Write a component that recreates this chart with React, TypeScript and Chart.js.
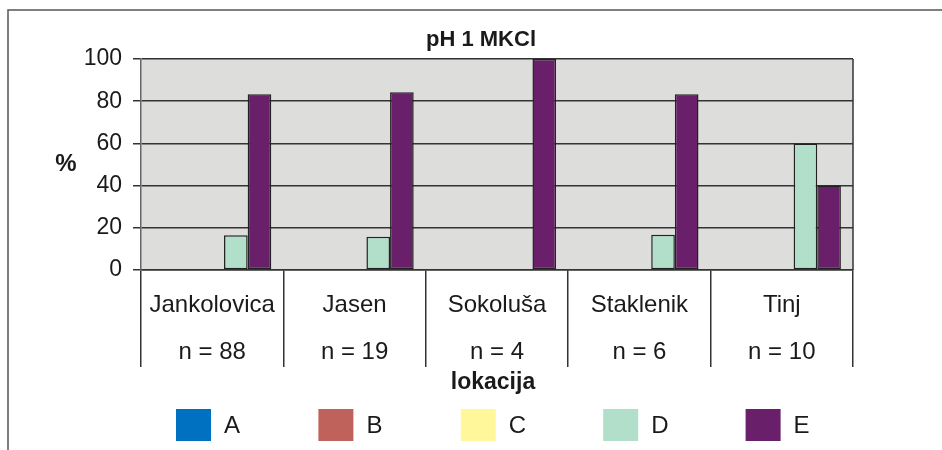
import React, { useEffect, useRef } from "react";
import { Chart, registerables } from "chart.js";

Chart.register(...registerables);

const chartTitle = "pH 1 MKCl";
const yAxisTitle = "%";
const xAxisTitle = "lokacija";
const locations = ["Jankolovica", "Jasen", "Sokoluša", "Staklenik", "Tinj"];
const sampleSizes = ["n = 88", "n = 19", "n = 4", "n = 6", "n = 10"];
const classLabels = ["A", "B", "C", "D", "E"];
const classColors = ["#0070c0", "#c0625c", "#fff799", "#b2dfca", "#6a1f6a"];
const valuesA = [0, 0, 0, 0, 0];
const valuesB = [0, 0, 0, 0, 0];
const valuesC = [0, 0, 0, 0, 0];
const valuesD = [16.5, 15.8, 0, 16.7, 60];
const valuesE = [83.3, 84.2, 100, 83.3, 40];
const yMin = 0;
const yMax = 100;
const yStep = 20;

const FONT = "'Liberation Sans', Arial, sans-serif";

const decorPlugin = {
  id: "decor",
  beforeDraw(chart: any) {
    const { ctx, chartArea } = chart;
    ctx.save();
    ctx.fillStyle = "#ffffff";
    ctx.fillRect(0, 0, chart.width, chart.height);
    // outer frame
    ctx.strokeStyle = "#555555";
    ctx.lineWidth = 1.5;
    ctx.beginPath();
    ctx.moveTo(8, chart.height);
    ctx.lineTo(8, 10);
    ctx.lineTo(chart.width, 10);
    ctx.stroke();
    // plot background
    ctx.fillStyle = "#dddddc";
    ctx.fillRect(chartArea.left, chartArea.top, chartArea.right - chartArea.left, chartArea.bottom - chartArea.top);
    ctx.restore();
  },
  afterDraw(chart: any) {
    const { ctx, chartArea } = chart;
    ctx.save();
    // right border of plot
    ctx.strokeStyle = "#333333";
    ctx.lineWidth = 1.5;
    ctx.beginPath();
    ctx.moveTo(chartArea.right, chartArea.top);
    ctx.lineTo(chartArea.right, chartArea.bottom);
    ctx.stroke();

    ctx.fillStyle = "#1a1a1a";
    ctx.textAlign = "center";
    ctx.textBaseline = "middle";
    ctx.font = `bold 22px ${FONT}`;
    ctx.fillText(chartTitle, 481, 40);
    ctx.font = `bold 24px ${FONT}`;
    ctx.fillText(yAxisTitle, 66, 164);
    ctx.font = `bold 23px ${FONT}`;
    ctx.fillText(xAxisTitle, (chartArea.left + chartArea.right) / 2 - 4, 383);

    // legend
    const catW = (chartArea.right - chartArea.left) / locations.length;
    ctx.font = `24px ${FONT}`;
    ctx.textAlign = "left";
    chart.data.datasets.forEach((ds: any, i: number) => {
      const bx = chartArea.left + 35 + i * catW;
      const by = 409;
      ctx.fillStyle = ds.backgroundColor;
      ctx.fillRect(bx, by, 35, 32);
      ctx.fillStyle = "#1a1a1a";
      ctx.fillText(ds.label, bx + 48, by + 17);
    });
    ctx.restore();
  },
};

export default function App() {
  const canvasRef = useRef<HTMLCanvasElement | null>(null);

  useEffect(() => {
    const canvas = canvasRef.current;
    if (!canvas) return;
    const seriesValues = [valuesA, valuesB, valuesC, valuesD, valuesE];
    const chart = new Chart(canvas, {
      type: "bar",
      data: {
        labels: locations.map((l, i) => [l, sampleSizes[i]]),
        datasets: classLabels.map((label, i) => ({
          label,
          data: seriesValues[i],
          backgroundColor: classColors[i],
          borderColor: "#222222",
          borderWidth: 1.5,
          borderSkipped: false,
          categoryPercentage: 0.83,
          barPercentage: 1.0,
        })),
      },
      options: {
        responsive: false,
        animation: false,
        devicePixelRatio: 1,
        layout: { padding: { top: 59, right: 89, left: 0, bottom: 0 } },
        plugins: {
          legend: { display: false },
          title: { display: false },
          tooltip: { enabled: false },
        },
        scales: {
          x: {
            grid: {
              offset: true,
              drawOnChartArea: false,
              drawTicks: true,
              tickLength: 97,
              color: "#333333",
              lineWidth: 1.5,
            },
            border: { display: true, color: "#333333", width: 1.5 },
            ticks: {
              color: "#1a1a1a",
              font: { family: FONT, size: 24, lineHeight: 47 / 24 },
              padding: -85.5,
              autoSkip: false,
              maxRotation: 0,
            },
            afterFit: (s: any) => {
              s.height = 180;
            },
          },
          y: {
            min: yMin,
            max: yMax,
            ticks: {
              stepSize: yStep,
              padding: 11,
              color: "#1a1a1a",
              font: { family: FONT, size: 23 },
            },
            grid: { color: "#333333", lineWidth: 1.5, tickLength: 8 },
            border: { display: true, color: "#666666", width: 1.5 },
            afterFit: (s: any) => {
              s.width = 141;
            },
          },
        },
      } as any,
      plugins: [decorPlugin],
    });
    return () => chart.destroy();
  }, []);

  return (
    <div style={{ position: "fixed", left: 0, top: 0, width: 942, height: 450 }}>
      <canvas ref={canvasRef} width={942} height={450} style={{ width: 942, height: 450, display: "block" }} />
    </div>
  );
}
